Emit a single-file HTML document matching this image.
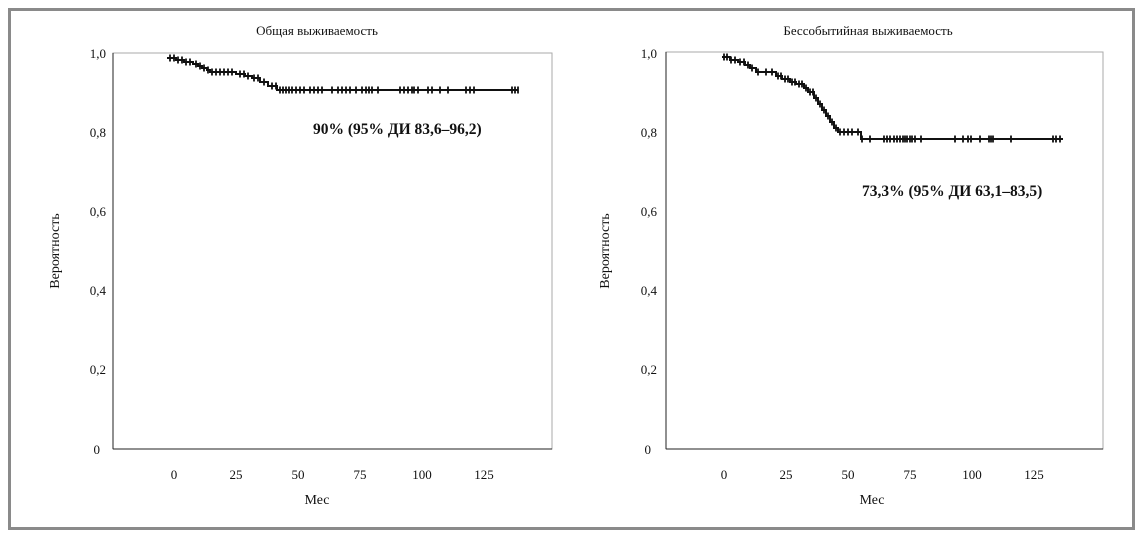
<!DOCTYPE html>
<html><head><meta charset="utf-8"><style>
html,body{margin:0;padding:0;background:#fff;width:1142px;height:536px;overflow:hidden}
svg text{font-family:"Liberation Serif","DejaVu Serif",serif;fill:#111}
</style></head><body>
<svg id="s" width="1142" height="536" viewBox="0 0 1142 536" xmlns="http://www.w3.org/2000/svg">
<rect x="9.5" y="9.5" width="1124" height="519" fill="#fff" stroke="#8a8a8a" stroke-width="3"/>
<!-- left plot -->
<rect x="113" y="53" width="439" height="396" fill="none" stroke="#aaa" stroke-width="1"/>
<line x1="113" y1="53" x2="113" y2="449" stroke="#222"/>
<line x1="113" y1="449" x2="552" y2="449" stroke="#222"/>
<text x="317" y="35" font-size="13" text-anchor="middle">Общая выживаемость</text>
<g font-size="13" text-anchor="end">
<text x="106" y="58">1,0</text><text x="106" y="137">0,8</text><text x="106" y="216">0,6</text>
<text x="106" y="295">0,4</text><text x="106" y="374">0,2</text><text x="100" y="454">0</text>
</g>
<g font-size="13" text-anchor="middle">
<text x="174" y="479">0</text><text x="236" y="479">25</text><text x="298" y="479">50</text>
<text x="360" y="479">75</text><text x="422" y="479">100</text><text x="484" y="479">125</text>
</g>
<text x="317" y="504" font-size="14" text-anchor="middle">Мес</text>
<text transform="translate(59,251) rotate(-90)" font-size="14" text-anchor="middle">Вероятность</text>
<text x="313" y="134" font-size="15.5" font-weight="bold">90% (95% ДИ 83,6–96,2)</text>
<!-- right plot -->
<rect x="666" y="52" width="437" height="397" fill="none" stroke="#aaa" stroke-width="1"/>
<line x1="666" y1="52" x2="666" y2="449" stroke="#222"/>
<line x1="666" y1="449" x2="1103" y2="449" stroke="#222"/>
<text x="868" y="35" font-size="13" text-anchor="middle">Бессобытийная выживаемость</text>
<g font-size="13" text-anchor="end">
<text x="657" y="58">1,0</text><text x="657" y="137">0,8</text><text x="657" y="216">0,6</text>
<text x="657" y="295">0,4</text><text x="657" y="374">0,2</text><text x="651" y="454">0</text>
</g>
<g font-size="13" text-anchor="middle">
<text x="724" y="479">0</text><text x="786" y="479">25</text><text x="848" y="479">50</text>
<text x="910" y="479">75</text><text x="972" y="479">100</text><text x="1034" y="479">125</text>
</g>
<text x="872" y="504" font-size="14" text-anchor="middle">Мес</text>
<text transform="translate(609,251) rotate(-90)" font-size="14" text-anchor="middle">Вероятность</text>
<text x="862" y="196" font-size="15.5" font-weight="bold">73,3% (95% ДИ 63,1–83,5)</text>
<g id="curves" stroke="#111" fill="none" stroke-width="2"></g>
</svg>
<script>
function curve(pts,ends,cens){
  var d="M"+pts[0][0]+" "+pts[0][1];
  for(var i=1;i<pts.length;i++){d+=" H"+pts[i][0]+" V"+pts[i][1];}
  d+=" H"+ends;
  var g=document.getElementById("curves");
  var p=document.createElementNS("http://www.w3.org/2000/svg","path");
  p.setAttribute("d",d);g.appendChild(p);
  cens.forEach(function(c){
    var l=document.createElementNS("http://www.w3.org/2000/svg","path");
    l.setAttribute("d","M"+c[0]+" "+(c[1]-3.5)+" V"+(c[1]+3.5));
    l.setAttribute("stroke-width","1.8");g.appendChild(l);
  });
}
function yAt(pts,x){var y=pts[0][1];for(var i=0;i<pts.length;i++){if(pts[i][0]<=x)y=pts[i][1];}return y;}
var L=[[167,58],[176,60],[184,62],[193,64],[198,66],[202,68],[207,70],[210,72],[236,74],[245,76],[252,78],[260,82],[268,86],[277,90]];
var lc=[];[170,174,178,182,186,190,196,200,204,208,212,216,220,224,228,232,240,244,248,254,258,264,272,276,280,283,286,289,292,296,300,304,310,314,318,322,332,338,342,346,350,356,362,366,369,372,378,400,404,408,412,414,418,428,432,440,448,466,470,474,512,515,518].forEach(function(x){lc.push([x,yAt(L,x)]);});
curve(L,518,lc);
var R=[[722,57],[730,60],[738,62],[745,65],[750,68],[756,72],[766,72],[776,76],[782,79],[790,82],[796,84],[804,88],[808,92],[814,98],[818,104],[822,110],[826,116],[830,122],[834,128],[838,132],[860,132],[861,139]];
var rc=[];[724,727,731,735,740,744,748,752,758,766,772,778,781,785,788,792,795,799,802,806,810,813,816,820,824,828,832,836,840,844,848,852,858,862,870,884,887,890,894,897,900,903,905,907,910,912,915,921,955,963,968,971,980,989,991,993,1011,1053,1056,1060].forEach(function(x){rc.push([x,yAt(R,x)]);});
curve(R,1063,rc);
</script>
</body></html>
